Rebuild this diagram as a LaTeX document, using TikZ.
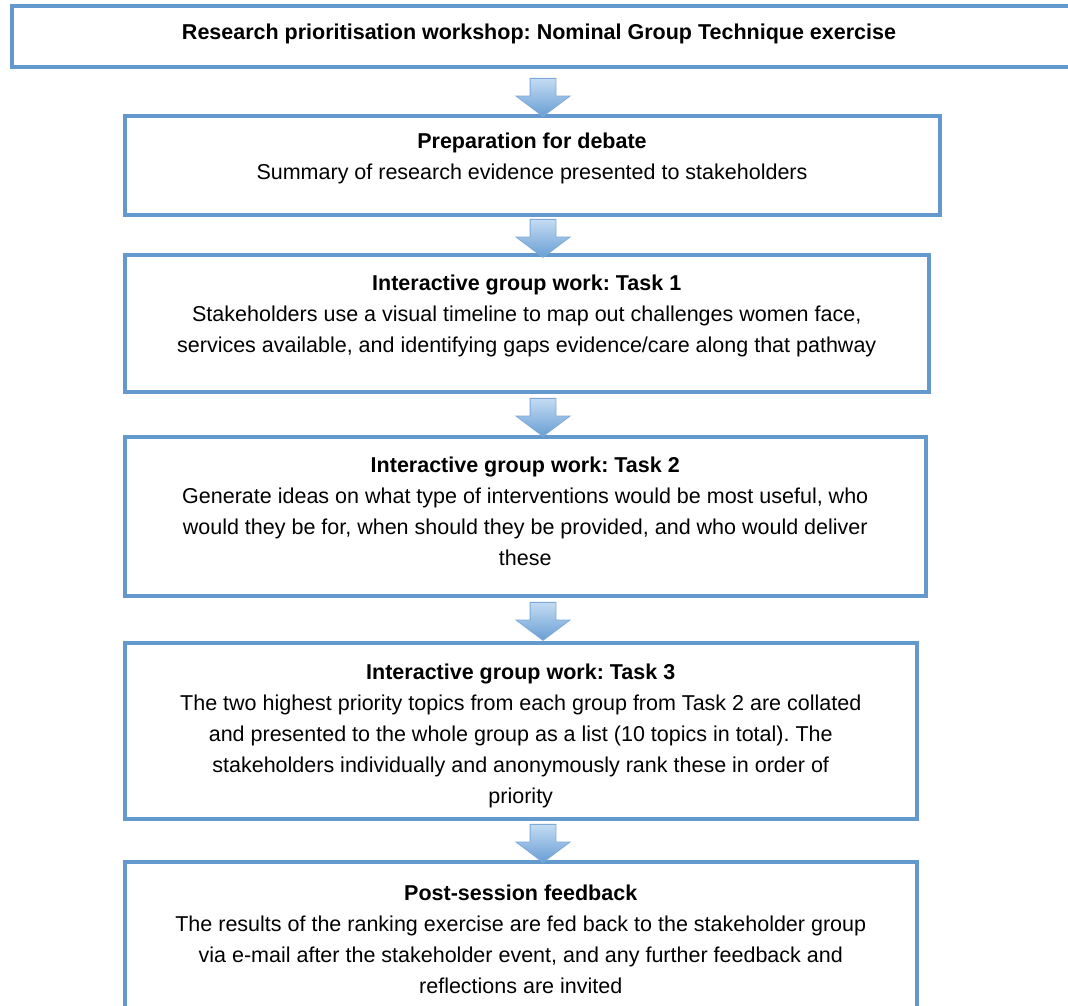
\documentclass[tikz,border=0pt]{standalone}
\usepackage{fontspec}
\setmainfont{Liberation Sans}
\usetikzlibrary{shapes.arrows}

\definecolor{boxblue}{RGB}{99,153,204}
\definecolor{arrlight}{RGB}{196,220,243}
\definecolor{arrdark}{RGB}{104,158,212}
\definecolor{arredge}{RGB}{125,169,216}

\frenchspacing

\begin{document}
\begin{tikzpicture}[
    x=1pt, y=-1pt,
    every node/.style={font=\fontsize{21.5}{31}\selectfont},
    % Stage frames: plain blue rectangles
    stage/.style={rectangle, draw=boxblue, line width=4pt, inner sep=0pt},
    % Centred text inside a frame
    stagetext/.style={align=center, inner sep=0pt, text=black},
    % Block arrow between two stages
    blockarr/.style={single arrow, shape border rotate=270, draw=arredge,
        line width=0.8pt, top color=arrlight, bottom color=arrdark,
        minimum width=53pt, minimum height=38pt,
        inner xsep=12.5pt, inner ysep=0pt,
        single arrow head extend=14pt, single arrow tip angle=106,
        single arrow head indent=0pt},
]

\fill[white] (0,0) rectangle (1068,1006);
\useasboundingbox (0,0) rectangle (1068,1006);

% ============================================================
% Workshop title
% ============================================================
\node[stage, minimum width=1063.5pt, minimum height=60.5pt] (title) at (543.25,36.75) {};
\node[stagetext] (titletxt) at (539,34)
    {\textbf{Research prioritisation workshop: Nominal Group Technique exercise}};

% ============================================================
% Preparation
% ============================================================
\node[stage, minimum width=815.5pt, minimum height=99pt] (prep) at (532.25,165.5) {};
\node[stagetext] (preptxt) at (532,158)
    {\textbf{Preparation for debate}\\
     Summary of research evidence presented to stakeholders};

% ============================================================
% Task 1
% ============================================================
\node[stage, minimum width=804.5pt, minimum height=137pt] (taskone) at (526.75,323.5) {};
\node[stagetext] (taskonetxt) at (526.75,315.5)
    {\textbf{Interactive group work: Task 1}\\
     Stakeholders use a visual timeline to map out challenges women face,\\
     services available, and identifying gaps evidence/care along that pathway};

% ============================================================
% Task 2
% ============================================================
\node[stage, minimum width=801.5pt, minimum height=159pt] (tasktwo) at (525.25,516.5) {};
\node[stagetext] (tasktwotxt) at (525.25,511)
    {\textbf{Interactive group work: Task 2}\\
     Generate ideas on what type of interventions would be most useful, who\\
     would they be for, when should they be provided, and who would deliver\\
     these};

% ============================================================
% Task 3
% ============================================================
\node[stage, minimum width=792.5pt, minimum height=176pt] (taskthree) at (520.75,731) {};
\node[stagetext] (taskthreetxt) at (520.75,736)
    {\textbf{Interactive group work: Task 3}\\
     The two highest priority topics from each group from Task 2 are collated\\
     and presented to the whole group as a list (10 topics in total). The\\
     stakeholders individually and anonymously rank these in order of\\
     priority};

% ============================================================
% Feedback (runs off the bottom of the page)
% ============================================================
\node[stage, minimum width=792.5pt, minimum height=147pt] (feedback) at (520.75,935.5) {};
\node[stagetext] (feedbacktxt) at (520.75,939)
    {\textbf{Post-session feedback}\\
     The results of the ranking exercise are fed back to the stakeholder group\\
     via e-mail after the stakeholder event, and any further feedback and\\
     reflections are invited};

% ============================================================
% Block arrows between stages
% ============================================================
\node[blockarr] (arrone) at (543,92.5) {};
\node[blockarr] (arrtwo) at (543,233.5) {};
\node[blockarr] (arrthree) at (543,412.5) {};
\node[blockarr] (arrfour) at (543,616.5) {};
\node[blockarr] (arrfive) at (543,838.5) {};

\end{tikzpicture}
\end{document}
